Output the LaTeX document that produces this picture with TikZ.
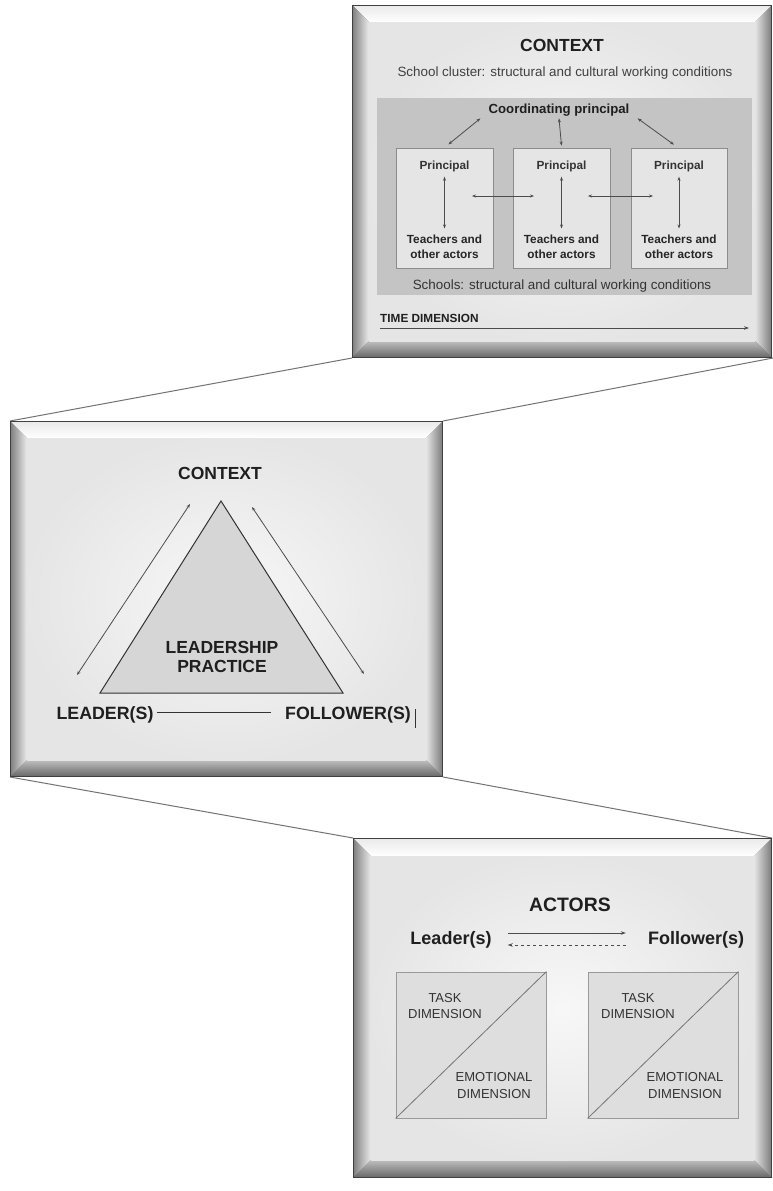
\documentclass[tikz,border=0pt]{standalone}
\usepackage{fontspec}
\setmainfont{Liberation Sans}
\usetikzlibrary{arrows.meta}
\newcommand{\fsz}[2]{\fontsize{#1pt}{#2pt}\selectfont}
\newcommand{\bevelpanel}[5]{%
  \fill[black!75] (#1,#2) rectangle (#3,#4);
  \shade[top color=black!8, bottom color=white] (#1+1.2,#2+1.2) -- (#3-1.2,#2+1.2) -- (#3-#5,#2+#5) -- (#1+#5,#2+#5) -- cycle;
  \shade[left color=black!48, right color=black!8] (#1+1.2,#2+1.2) -- (#1+#5,#2+#5) -- (#1+#5,#4-#5) -- (#1+1.2,#4-1.2) -- cycle;
  \shade[left color=black!10, right color=black!50] (#3-1.2,#2+1.2) -- (#3-#5,#2+#5) -- (#3-#5,#4-#5) -- (#3-1.2,#4-1.2) -- cycle;
  \shade[top color=black!25, bottom color=black!58] (#1+1.2,#4-1.2) -- (#1+#5,#4-#5) -- (#3-#5,#4-#5) -- (#3-1.2,#4-1.2) -- cycle;
  \shade[inner color=black!3, outer color=black!10] (#1+#5,#2+#5) rectangle (#3-#5,#4-#5);
}
\tikzset{
  dbl/.style={{Stealth[length=4pt,width=3pt]}-{Stealth[length=4pt,width=3pt]}, line width=0.8pt, draw=black!70},
  onearrow/.style={-{Stealth[length=5pt,width=3.5pt]}, line width=0.8pt, draw=black!70},
  link/.style={draw=black!55, line width=1pt},
  schoolbox/.style={draw=black!45, fill=black!10, line width=0.8pt, minimum width=97pt, minimum height=120pt, inner sep=0pt},
  dimbox/.style={draw=black!40, fill=black!13, line width=0.8pt, minimum width=150pt, minimum height=146pt, inner sep=0pt},
  txt/.style={inner sep=2pt, text=black!88},
}
\begin{document}
\begin{tikzpicture}[x=1pt,y=-1pt]
\useasboundingbox (0,0) rectangle (773,1191);
\fill[white] (0,0) rectangle (773,1191);

% panel corners
\coordinate (p1bl) at (352,358);
\coordinate (p1br) at (773,358);
\coordinate (p2tl) at (10,421);
\coordinate (p2tr) at (443,421);
\coordinate (p2bl) at (10,777);
\coordinate (p2br) at (443,777);
\coordinate (p3tl) at (353,838);
\coordinate (p3tr) at (772,838);

% connecting lines
\draw[link] (p1bl) -- (p2tl);
\draw[link] (p1br) -- (p2tr);
\draw[link] (p2bl) -- (p3tl);
\draw[link] (p2br) -- (p3tr);

% ===== panels =====
\bevelpanel{352}{5}{772}{358}{17}
\bevelpanel{10}{421}{443}{777}{17}
\bevelpanel{353}{838}{772}{1178}{18}

% ===== top panel =====
\node[txt, font=\fsz{17.5}{20}\bfseries] (ctx1) at (562,45) {CONTEXT};
\node[txt, text=black!75, font=\fsz{13.4}{16}] (clus) at (565,73) {School cluster: structural and cultural working conditions};
\fill[black!23] (377,98) rectangle (752,295);
\node[txt, font=\fsz{13.2}{16}\bfseries] (coord) at (559,110) {Coordinating principal};

\node[schoolbox] (s1) at (444.5,208) {};
\node[schoolbox] (s2) at (561.5,208) {};
\node[schoolbox, minimum width=96pt] (s3) at (679,208) {};

\foreach \i/\x in {1/444.5,2/561.5,3/679}{
  \node[txt, text=black!80, font=\fsz{11.8}{14}\bfseries] (pr\i) at (\x,166) {Principal};
  \node[txt, align=center, text=black!85, font=\fsz{11.8}{15}\bfseries] (te\i) at (\x,246.5) {Teachers and\\ other actors};
  \draw[dbl] ([yshift=-3pt]pr\i.south) -- ([yshift=4pt]te\i.north);
}
\draw[dbl, shorten >=5pt] ([xshift=-6pt]coord.south west) -- (s1.north);
\draw[dbl] (coord.south) -- ([yshift=2pt]s2.north);
\draw[dbl, shorten >=5pt] ([xshift=6pt]coord.south east) -- ([xshift=-1pt]s3.north);
\draw[dbl, shorten <=27.5pt, shorten >=27.5pt] ([yshift=12pt]s1.center) -- ([yshift=12pt]s2.center);
\draw[dbl, shorten <=26.5pt, shorten >=26pt] ([yshift=12pt]s2.center) -- ([yshift=12pt]s3.center);

\node[txt, text=black!80, font=\fsz{13.4}{16}] (schools) at (562,286) {Schools: structural and cultural working conditions};
\node[txt, anchor=west, font=\fsz{11.8}{14}\bfseries] (timed) at (378,318) {TIME DIMENSION};
\coordinate (tA) at (380,328);
\coordinate (tB) at (749,328);
\draw[onearrow] (tA) -- (tB);

% ===== middle panel =====
\node[txt, font=\fsz{17.5}{20}\bfseries] (ctx2) at (220,473) {CONTEXT};
\draw[fill=black!16, draw=black!80, line width=1pt] (221,501) -- (100,693) -- (343,693) -- cycle;
\node[txt, align=center, font=\fsz{17.5}{19}\bfseries] (lp) at (222,656.5) {LEADERSHIP\\ PRACTICE};
\coordinate (la) at (77,675);
\coordinate (lb) at (190,504);
\coordinate (ra) at (252,507);
\coordinate (rb) at (364,674);
\draw[dbl] (la) -- (lb);
\draw[dbl] (ra) -- (rb);
\node[txt, font=\fsz{17.8}{20}\bfseries] (lead) at (105,715) {LEADER(S)};
\node[txt, font=\fsz{17.8}{20}\bfseries] (foll) at (348,715) {FOLLOWER(S)};
\draw[black!80, line width=1pt, shorten <=1pt, shorten >=12pt] ([yshift=3pt]lead.east) -- ([yshift=3pt]foll.west);
\coordinate (barA) at (415,709);
\coordinate (barB) at (415,728);
\draw[black!80, line width=0.9pt] (barA) -- (barB);

% ===== bottom panel =====
\node[txt, font=\fsz{19.4}{22}\bfseries] (actors) at (570,905) {ACTORS};
\node[txt, font=\fsz{18}{21}\bfseries] (ldr) at (451,940) {Leader(s)};
\node[txt, font=\fsz{18}{21}\bfseries] (flw) at (696,940) {Follower(s)};
\draw[onearrow, shorten <=14pt, shorten >=20pt] ([yshift=7pt]ldr.east) -- ([yshift=7pt]flw.west);
\draw[onearrow, dashed, shorten <=20pt, shorten >=14pt] ([yshift=-5pt]flw.west) -- ([yshift=-5pt]ldr.east);

\node[dimbox] (b1) at (471,1045) {};
\node[dimbox] (b2) at (663,1045) {};
\draw[black!55, line width=0.8pt] (b1.south west) -- (b1.north east);
\draw[black!55, line width=0.8pt] (b2.south west) -- (b2.north east);
\node[txt, align=center, text=black!80, font=\fsz{13}{16}] (t1) at (445,1006) {TASK\\ DIMENSION};
\node[txt, align=center, text=black!80, font=\fsz{13}{17}] (e1) at (494,1085.5) {EMOTIONAL\\ DIMENSION};
\node[txt, align=center, text=black!80, font=\fsz{13}{16}] (t2) at (638,1006) {TASK\\ DIMENSION};
\node[txt, align=center, text=black!80, font=\fsz{13}{17}] (e2) at (685,1085.5) {EMOTIONAL\\ DIMENSION};
\end{tikzpicture}
\end{document}
